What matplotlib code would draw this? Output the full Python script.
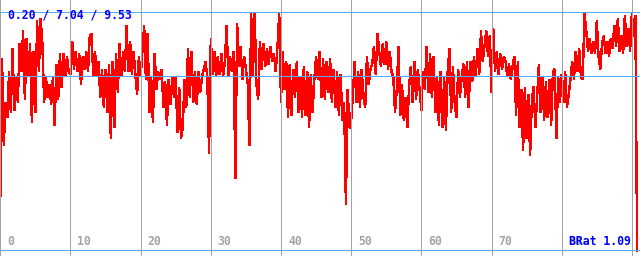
import numpy as np
import matplotlib
matplotlib.use("Agg")
import matplotlib.pyplot as plt

# ---- data, one sample every 0.25 x-units ----
step = 0.25
values = [
    2.2, 7.7, 4.3, 6.0,   5.4, 7.2, 5.6, 8.1,   5.7, 7.0, 6.0, 8.3,   7.2, 8.8, 6.1, 8.5,
    7.0, 8.3, 5.2, 8.0,   5.6, 9.2, 7.2, 9.3,   8.3, 6.0, 7.0, 6.2,   6.7, 5.9, 7.0, 5.1,
    7.5, 6.1, 7.9, 6.6,   7.9, 7.0, 7.8, 7.2,   7.1, 8.4, 7.3, 8.0,   7.2, 7.9, 6.7, 7.8,
    7.3, 8.0, 7.2, 8.6,   8.7, 7.0, 8.0, 7.0,   7.6, 6.2, 7.3, 5.8,   7.3, 5.6, 7.5, 4.6,
    7.6, 5.0, 7.9, 6.4,   8.3, 7.0, 8.0, 7.2,   9.0, 7.2, 8.4, 7.1,   8.0, 7.1, 6.3, 7.8,
    7.0, 8.0, 9.0, 6.9,   8.7, 5.6, 7.0, 5.2,   7.9, 6.5, 7.2, 6.9,   7.3, 5.8, 6.8, 5.1,
    6.9, 5.9, 7.0, 6.2,   7.0, 4.8, 6.6, 4.6,   5.0, 6.9, 5.8, 8.1,   6.2, 8.0, 6.0, 7.2,
    5.9, 7.2, 6.4, 7.0,   7.3, 7.6, 7.0, 4.0,   8.5, 7.1, 8.0, 7.0,   7.8, 7.1, 7.9, 7.0,
    7.6, 9.0, 7.0, 7.8,   7.2, 8.0, 3.0, 9.1,   7.4, 8.2, 6.9, 7.8,   7.3, 6.8, 4.3, 9.5,
    7.0, 9.5, 6.7, 6.1,   8.4, 7.3, 8.3, 7.4,   8.1, 7.5, 8.2, 7.6,   7.9, 7.2, 8.2, 9.5,
    6.0, 8.0, 6.5, 7.6,   5.4, 7.5, 5.5, 7.3,   6.2, 7.6, 5.6, 7.0,   5.4, 7.4, 5.5, 7.2,
    5.0, 7.1, 5.6, 6.9,   7.8, 6.9, 8.0, 6.2,   7.7, 6.1, 7.6, 6.4,   7.7, 6.0, 7.3, 5.8,
    7.2, 5.5, 7.1, 5.3,   6.0, 2.0, 6.5, 5.0,   5.3, 6.3, 7.6, 6.0,   7.2, 5.8, 7.3, 6.2,
    5.8, 7.8, 6.7, 7.3,   7.5, 8.2, 7.1, 8.7,   8.0, 7.4, 8.3, 7.5,   8.4, 7.3, 8.0, 7.2,
    7.0, 5.6, 6.5, 8.2,   5.5, 6.7, 5.3, 6.2,   5.0, 6.6, 7.4, 6.0,   7.6, 6.1, 7.3, 6.5,
    5.7, 7.2, 6.5, 8.2,   6.4, 7.9, 6.2, 7.8,   5.6, 7.0, 5.1, 7.2,   5.0, 7.0, 4.9, 7.2,
    8.1, 5.6, 7.4, 6.0,   5.4, 7.3, 6.2, 7.0,   7.5, 6.2, 7.6, 5.8,   7.6, 6.8, 7.8, 7.0,
    8.1, 7.1, 8.8, 7.6,   8.2, 8.8, 7.8, 8.6,   6.4, 8.9, 7.2, 8.0,   7.1, 7.9, 7.3, 7.8,
    7.6, 7.0, 7.5, 6.9,   7.4, 7.8, 5.5, 7.6,   5.0, 6.5, 4.1, 6.6,   4.6, 6.3, 3.9, 6.1,
    6.6, 5.0, 6.2, 7.5,   5.6, 7.0, 5.3, 6.8,   5.4, 6.9, 5.1, 7.2,   7.3, 4.6, 7.0, 6.0,
    7.1, 6.0, 7.2, 5.8,   6.3, 6.9, 7.6, 6.9,   8.0, 7.2, 8.1, 7.0,   6.9, 9.5, 8.8, 8.0,
    8.5, 7.9, 8.4, 7.9,   9.2, 7.8, 7.3, 8.3,   8.6, 7.9, 8.4, 7.8,   8.5, 8.1, 9.0, 8.2,
    9.3, 8.0, 8.6, 7.9,   9.4, 8.2, 8.9, 8.0,   9.5, 8.6, 9.4, 0.2,
]
x_ticks = [0, 10, 20, 30, 40, 50, 60, 70, 80, 90]
stat_min, stat_avg, stat_max = 0.20, 7.04, 9.53
ratio_label = "BRat 1.09"

# ---- figure ----
W, H = 640, 256
fig = plt.figure(figsize=(W / 100, H / 100), dpi=100)
ax = fig.add_axes([0, 0, 1, 1])
ax.set_xlim(-0.04, 91.16)
ax.set_ylim(-0.023, 10.012)
ax.axis("off")

t = np.arange(len(values)) * step
ax.plot(t, values, color="#ff0000", lw=1.0, antialiased=False, zorder=2,
        solid_joinstyle="miter")

grid_gray = "#a4a4a4"
blue = "#55aaff"
for xv in x_ticks:
    ax.axvline(xv, color=grid_gray, lw=0.72, zorder=3, antialiased=False)
for yv in (stat_max, stat_avg, stat_min):
    ax.axhline(yv, color=blue, lw=0.72, zorder=4, antialiased=False)

font = dict(family="DejaVu Sans Mono", weight="bold", size=8.3)
# x tick labels, drawn inside near the bottom
for xv in x_ticks:
    xp = ax.transData.transform((xv, 0))[0] + 7
    fig.text(xp / W, 11 / H, str(xv), color=grid_gray, va="baseline", ha="left",
             **font)

fig.text(8 / W, 1 - 19 / H, f"{stat_min:.2f} / {stat_avg:.2f} / {stat_max:.2f}",
         color="#0000ff", va="baseline", ha="left", **font)
fig.text(569 / W, 11 / H, ratio_label, color="#0000ff", va="baseline", ha="left",
         **font)

fig.savefig("out.png", dpi=100, facecolor="white")
